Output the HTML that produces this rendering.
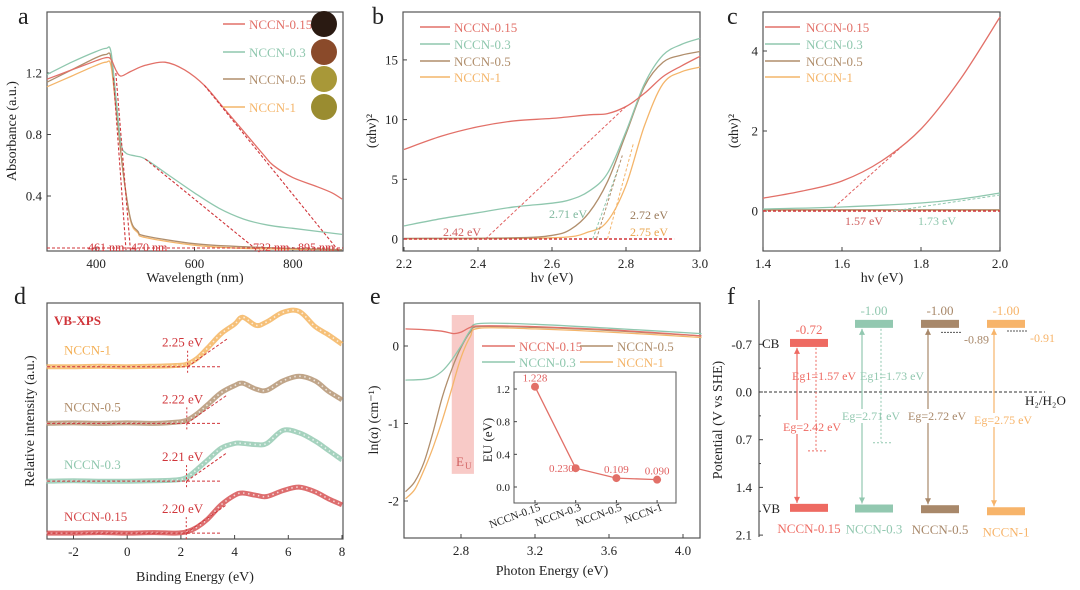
<!DOCTYPE html>
<html><head><meta charset="utf-8"><style>
html,body{margin:0;padding:0;background:#fff;}
svg{display:block;font-family:"Liberation Serif",serif;}
</style></head><body>
<svg id="fig" width="1080" height="590" viewBox="0 0 1080 590" xmlns="http://www.w3.org/2000/svg"></svg>
<script>
// ---------- DATA ----------
const names=["NCCN-0.15","NCCN-0.3","NCCN-0.5","NCCN-1"];
const colors=["#e27068","#8fc7ae","#b08e6c","#f4b56a"];
// panel a: wavelength (nm) / absorbance
const aX=[[300,350,400,420,430,440,450,470,500,540,580,620,660,700,740,760,800,850,880,900],
 [300,350,400,420,430,440,450,460,480,500,550,600,650,700,750,800,850,900],
 [300,350,400,420,430,440,455,470,485,500,600,700,900],
 [300,350,400,420,430,440,455,470,485,500,600,700,900]];
const aY=[[1.16,1.22,1.28,1.30,1.29,1.22,1.18,1.21,1.25,1.27,1.22,1.12,0.97,0.82,0.67,0.60,0.52,0.46,0.42,0.38],
 [1.19,1.27,1.34,1.36,1.34,1.05,0.75,0.68,0.66,0.64,0.53,0.42,0.32,0.25,0.21,0.19,0.17,0.15],
 [1.14,1.22,1.30,1.32,1.30,1.00,0.55,0.25,0.17,0.14,0.09,0.07,0.05],
 [1.11,1.18,1.25,1.27,1.25,0.98,0.55,0.24,0.16,0.13,0.08,0.06,0.05]];
const aEdges=[461,470,732,895];
const aTicksX=[400,600,800], aTicksY=[0.4,0.8,1.2];
// panel b
const bX=[[2.2,2.3,2.4,2.5,2.6,2.7,2.75,2.8,2.85,2.9,2.95,3.0],
 [2.2,2.3,2.4,2.5,2.6,2.65,2.7,2.75,2.8,2.85,2.9,2.95,3.0],
 [2.2,2.5,2.6,2.65,2.7,2.75,2.8,2.85,2.9,2.95,3.0],
 [2.2,2.6,2.7,2.75,2.8,2.85,2.9,2.95,3.0]];
const bY=[[7.5,8.6,9.4,9.9,10.1,10.4,10.5,11.1,12.2,13.6,14.5,15.3],
 [1.1,1.7,2.2,2.7,3.0,3.3,4.0,5.5,9.0,13.0,15.4,16.3,16.8],
 [0.05,0.1,0.3,0.8,2.2,4.8,8.8,12.8,14.8,15.4,15.7],
 [0.02,0.1,0.6,1.5,4.5,9.5,13.0,14.0,14.4]];
const bGaps=[2.42,2.71,2.72,2.75];
const bTicksX=[2.2,2.4,2.6,2.8,3.0], bTicksY=[0,5,10,15];
// panel c
const cX=[[1.4,1.5,1.6,1.7,1.8,1.9,2.0],[1.4,1.6,1.8,1.9,2.0],[1.4,2.0],[1.4,2.0]];
const cY=[[0.32,0.5,0.75,1.25,2.05,3.3,4.85],[0.05,0.1,0.2,0.3,0.45],[0.03,0.03],[0.02,0.02]];
const cGaps=[1.57,1.73];
const cTicksX=[1.4,1.6,1.8,2.0], cTicksY=[0,2,4];
// panel d (VB-XPS), relative intensity above each baseline
const dX=[-3,-2,-1,0,1,1.8,2.2,2.6,3,3.5,4,4.3,4.8,5.2,5.8,6.4,7,7.5,8];
const dRel=[[0,0,0.02,0,0.02,0,0.05,0.25,0.6,1.2,1.6,1.7,1.6,1.55,1.8,1.95,1.75,1.45,1.2],
 [0,0.02,0,0,0.02,0.05,0.15,0.5,0.9,1.4,1.6,1.6,1.55,1.6,2.15,2.05,1.7,1.3,0.9],
 [0,0.02,0,0.02,0,0.05,0.12,0.4,0.8,1.3,1.6,1.7,1.45,1.4,1.8,2.0,1.8,1.35,1.0],
 [0,0,0.02,0,0.02,0.05,0.1,0.35,0.8,1.4,1.8,2.1,1.75,1.9,2.3,2.35,1.7,1.35,0.95]];
const dBase=[0.25,2.45,4.9,7.3];
const dVB=[2.20,2.21,2.22,2.25];
const dTicksX=[-2,0,2,4,6,8];
// panel e
const eX=[[2.5,2.6,2.7,2.76,2.8,2.85,2.9,3.2,3.6,4.1],
 [2.5,2.6,2.65,2.7,2.75,2.8,2.85,2.9,3.2,3.6,4.1],
 [2.5,2.55,2.6,2.65,2.7,2.75,2.8,2.85,2.9,3.2,3.6,4.1],
 [2.5,2.55,2.6,2.65,2.7,2.75,2.8,2.85,2.9,3.2,3.6,4.1]];
const eY=[[0.22,0.21,0.19,0.16,0.18,0.24,0.26,0.25,0.21,0.13],
 [-0.44,-0.43,-0.4,-0.32,-0.18,0.0,0.2,0.29,0.28,0.23,0.16],
 [-1.88,-1.75,-1.5,-1.1,-0.65,-0.3,-0.02,0.18,0.25,0.24,0.2,0.13],
 [-1.97,-1.85,-1.6,-1.3,-0.95,-0.55,-0.15,0.12,0.23,0.22,0.18,0.11]];
const eTicksX=[2.8,3.2,3.6,4.0], eTicksY=[-2,-1,0];
const euVals=[1.228,0.230,0.109,0.090];
const euLabels=["1.228","0.230","0.109","0.090"];
const euTicks=[0.0,0.4,0.8,1.2];
// panel f
const fCB=[-0.72,-1.00,-1.00,-1.00];
const fVB=[1.70,1.71,1.72,1.75];
const fEg=[2.42,2.71,2.72,2.75];
const fEg1=[1.57,1.73];
const fSub=[null,null,-0.89,-0.91];
const fTicks=[-0.7,0.0,0.7,1.4,2.1];

// ---------- HELPERS ----------
const svg=document.getElementById('fig');
const NS="http://www.w3.org/2000/svg";
function el(tag,attrs,name,parent){
  const e=document.createElementNS(NS,tag);
  for(const k in attrs) e.setAttribute(k,attrs[k]);
  
  
  (parent||svg).appendChild(e);return e;
}
function txt(x,y,s,name,opt){
  opt=opt||{};
  const t=el('text',{x:x,y:y,'font-size':opt.size||13,fill:opt.fill||'#222','text-anchor':opt.anchor||'start'},name,opt.parent);
  if(opt.transform) t.setAttribute('transform',opt.transform);
  if(opt.weight) t.setAttribute('font-weight',opt.weight);
  t.textContent=s;return t;
}
function lin(d0,d1,p0,p1){return v=>p0+(v-d0)*(p1-p0)/(d1-d0);}
function line(x1,y1,x2,y2,name,st){
  return el('line',Object.assign({x1:x1,y1:y1,x2:x2,y2:y2,stroke:'#444','stroke-width':1},st||{}),name);
}
function smoothD(P){
  if(P.length<3) return P.map((p,i)=>(i?'L':'M')+p[0].toFixed(1)+','+p[1].toFixed(1)).join('');
  let d='M'+P[0][0].toFixed(1)+','+P[0][1].toFixed(1);
  for(let i=0;i<P.length-1;i++){
    const p0=P[Math.max(0,i-1)],p1=P[i],p2=P[i+1],p3=P[Math.min(P.length-1,i+2)];
    const c1=[p1[0]+(p2[0]-p0[0])/6,p1[1]+(p2[1]-p0[1])/6];
    const c2=[p2[0]-(p3[0]-p1[0])/6,p2[1]-(p3[1]-p1[1])/6];
    d+='C'+c1[0].toFixed(1)+','+c1[1].toFixed(1)+' '+c2[0].toFixed(1)+','+c2[1].toFixed(1)+' '+p2[0].toFixed(1)+','+p2[1].toFixed(1);
  }
  return d;
}
function path(xs,ys,sx,sy,name,st){
  const P=xs.map((v,i)=>[sx(v),sy(ys[i])]);
  return el('path',Object.assign({d:smoothD(P),fill:'none','stroke-width':1.3,'stroke-linejoin':'round'},st||{}),name);
}
function frame(x0,y0,x1,y1,name){el('rect',{x:x0,y:y0,width:x1-x0,height:y1-y0,fill:'none',stroke:'#555','stroke-width':1.2},name);}
function xticks(tk,sx,yb,name,fmt){tk.forEach(v=>{line(sx(v),yb,sx(v),yb-4,name+'-tick');txt(sx(v),yb+17,fmt?fmt(v):String(v),name+'-label',{anchor:'middle',size:13});});}
function yticks(tk,sy,xl,name,fmt){tk.forEach(v=>{line(xl,sy(v),xl+4,sy(v),name+'-tick');txt(xl-5,sy(v)+4.5,fmt?fmt(v):String(v),name+'-label',{anchor:'end',size:13});});}
const red='#d0353a';

// ---------- PANEL A ----------
{const sx=lin(300,900,47,342), sy=lin(0,0.4,257.5,196);
 frame(47,12,343,251,'panel-a-frame');
 xticks(aTicksX,sx,251,'a-x'); yticks(aTicksY,sy,47,'a-y',v=>v.toFixed(1));
 txt(195,282,'Wavelength (nm)','a-x-axis-title',{anchor:'middle',size:14});
 txt(16,131,'Absorbance (a.u.)','a-y-axis-title',{anchor:'middle',size:14,transform:'rotate(-90 16 131)'});
 for(let i=3;i>=0;i--) path(aX[i],aY[i],sx,sy,'a-curve-'+names[i],{stroke:colors[i]});
 const tang=[[435,1.17],[440,1.2],[500,0.64],[620,1.12]];
 aEdges.forEach((e,i)=>line(sx(tang[i][0]),sy(tang[i][1]),sx(e),252,'a-tangent-'+e,{stroke:red,'stroke-dasharray':'3,2','stroke-width':1.1}));
 line(47,248,343,248,'a-baseline',{stroke:red,'stroke-dasharray':'3,2'});
 [[88,'461 nm'],[131,'470 nm'],[253,'732 nm'],[298,'895 nm']].forEach((p,i)=>txt(p[0],251,p[1],'a-edge-label',{size:12,fill:red}));
 const sw=['#2a1a12','#8a4a2a','#a89838','#9a8c30'];
 [24,52,79,107].forEach((y,i)=>{line(223,y,245,y,'a-legend-line',{stroke:colors[i],'stroke-width':1.5});
  txt(249,y+5,names[i],'a-legend-label',{size:13,fill:colors[i]});
  el('circle',{cx:324,cy:y,r:13,fill:sw[i]},'a-sample-photo');});
 txt(18,24,'a','panel-a-letter',{size:24});}

// ---------- PANEL B ----------
{const sx=lin(2.2,3.0,404,700), sy=lin(0,5,239,179.3);
 frame(403,12,700,251,'panel-b-frame');
 xticks(bTicksX,sx,251,'b-x',v=>v.toFixed(1)); yticks(bTicksY,sy,403,'b-y');
 txt(552,282,'hν (eV)','b-x-axis-title',{anchor:'middle',size:14});
 txt(376,131,'(αhν)²','b-y-axis-title',{anchor:'middle',size:14,transform:'rotate(-90 376 131)'});
 for(let i=3;i>=0;i--) path(bX[i],bY[i],sx,sy,'b-curve-'+names[i],{stroke:colors[i]});
 line(sx(2.2),sy(0),sx(2.93),sy(0),'b-baseline',{stroke:red,'stroke-dasharray':'3,2','stroke-width':1.6});
 line(sx(bGaps[0]),sy(0),sx(2.8),sy(11.1),'b-tangent-0.15',{stroke:'#e06060','stroke-dasharray':'3,2'});
 [[1,2.78,6],[2,2.79,7],[3,2.82,8]].forEach(p=>line(sx(bGaps[p[0]]),sy(0),sx(p[1]),sy(p[2]),'b-tangent',{stroke:colors[p[0]],'stroke-dasharray':'3,2'}));
 txt(443,236,'2.42 eV','b-gap-label',{size:12,fill:'#d06060'});
 txt(549,218,'2.71 eV','b-gap-label',{size:12,fill:'#7fb89e'});
 txt(630,219,'2.72 eV','b-gap-label',{size:12,fill:'#9a7a5a'});
 txt(630,236,'2.75 eV','b-gap-label',{size:12,fill:'#eaa64e'});
 [27,44,61,77].forEach((y,i)=>{line(420,y,450,y,'b-legend-line',{stroke:colors[i],'stroke-width':1.5});
  txt(454,y+5,names[i],'b-legend-label',{size:13,fill:colors[i]});});
 txt(372,24,'b','panel-b-letter',{size:24});}

// ---------- PANEL C ----------
{const sx=lin(1.4,2.0,763,1000), sy=lin(0,2,211,131);
 frame(763,12,1000,251,'panel-c-frame');
 xticks(cTicksX,sx,251,'c-x',v=>v.toFixed(1)); yticks(cTicksY,sy,763,'c-y');
 txt(882,282,'hν (eV)','c-x-axis-title',{anchor:'middle',size:14});
 txt(738,131,'(αhν)²','c-y-axis-title',{anchor:'middle',size:14,transform:'rotate(-90 738 131)'});
 for(let i=3;i>=0;i--) path(cX[i],cY[i],sx,sy,'c-curve-'+names[i],{stroke:colors[i]});
 line(763,sy(0),1000,sy(0),'c-baseline',{stroke:red,'stroke-dasharray':'3,2','stroke-width':1.4});
 line(sx(cGaps[0]),sy(0),sx(1.75),sy(1.6),'c-tangent-0.15',{stroke:'#e06060','stroke-dasharray':'3,2'});
 line(sx(cGaps[1]),sy(0),sx(2.0),sy(0.4),'c-tangent-0.3',{stroke:'#8fc7ae','stroke-dasharray':'3,2'});
 txt(845,225,'1.57 eV','c-gap-label',{size:12,fill:'#d06060'});
 txt(918,225,'1.73 eV','c-gap-label',{size:12,fill:'#8fc7ae'});
 [27,44,61,77].forEach((y,i)=>{line(765,y,800,y,'c-legend-line',{stroke:colors[i],'stroke-width':1.5});
  txt(806,y+5,names[i],'c-legend-label',{size:13,fill:colors[i]});});
 txt(727,24,'c','panel-c-letter',{size:24});}

// ---------- PANEL D ----------
{const sx=lin(-2,8,73.5,342), sy=lin(0,10,539,303);
 frame(47,303,343,539,'panel-d-frame');
 xticks(dTicksX,sx,539,'d-x');
 txt(195,581,'Binding Energy (eV)','d-x-axis-title',{anchor:'middle',size:14});
 txt(34,421,'Relative intensity (a.u.)','d-y-axis-title',{anchor:'middle',size:14,transform:'rotate(-90 34 421)'});
 const dc=['#d4484a','#8fc7ae','#b08e6c','#f4b056'];
 const lbl=['NCCN-0.15','NCCN-0.3','NCCN-0.5','NCCN-1'];
 for(let i=0;i<4;i++){
  const ys=dRel[i].map(v=>v+dBase[i]);
  path(dX,ys,sx,sy,'d-trace-'+names[i],{stroke:dc[i],'stroke-width':5,opacity:0.8});
  path(dX,ys,sx,sy,'d-trace-dots-'+names[i],{stroke:'#fff','stroke-width':1.6,'stroke-dasharray':'1.5,3.5',opacity:0.7});
  const bx=sx(dVB[i]), by=sy(dBase[i]);
  line(47,by,sx(3.5),by,'d-baseline',{stroke:red,'stroke-dasharray':'3,2'});
  line(bx,by+6,bx,by-16,'d-vb-marker',{stroke:red,'stroke-dasharray':'2,2'});
  line(bx,by,sx(dVB[i]+1.5),sy(dBase[i]+1.2),'d-tangent',{stroke:red,'stroke-dasharray':'3,2'});
  txt(162,by-20,dVB[i].toFixed(2)+' eV','d-vb-label',{size:13,fill:red});
  txt(64,by-12,lbl[i],'d-series-label',{size:13,fill:dc[i]});
 }
 txt(54,325,'VB-XPS','d-title',{size:13,fill:red,weight:'bold'});
 txt(14,304,'d','panel-d-letter',{size:24});}

// ---------- PANEL E ----------
{const sx=lin(2.8,3.2,461,535), sy=lin(0,-1,346,423.5);
 frame(404,303,700,538,'panel-e-frame');
 xticks(eTicksX,sx,538,'e-x',v=>v.toFixed(1)); yticks(eTicksY,sy,404,'e-y');
 txt(552,575,'Photon Energy (eV)','e-x-axis-title',{anchor:'middle',size:14});
 txt(378,420,'ln(α) (cm⁻¹)','e-y-axis-title',{anchor:'middle',size:14,transform:'rotate(-90 378 420)'});
 el('rect',{x:sx(2.75),y:sy(0.4),width:sx(2.87)-sx(2.75),height:sy(-1.65)-sy(0.4),fill:'#f6b8b4',opacity:0.75},'eu-band');
 txt(456,466,'E','eu-band-label',{size:13,fill:'#d06060'});
 txt(465,469,'U','eu-band-sub',{size:9,fill:'#d06060'});
 for(let i=3;i>=0;i--) path(eX[i],eY[i],sx,sy,'e-curve-'+names[i],{stroke:colors[i]});
 [[482,346,0],[580,346,2],[482,362,1],[580,362,3]].forEach(p=>{
  line(p[0],p[1],p[0]+33,p[1],'e-legend-line',{stroke:colors[p[2]],'stroke-width':1.5});
  txt(p[0]+37,p[1]+5,names[p[2]],'e-legend-label',{size:13,fill:colors[p[2]]});});
 // inset
 const ix=i=>535+i*40.7, iy=lin(0,1.2,487,389);
 el('rect',{x:514,y:372,width:162,height:131,fill:'#fff',stroke:'#555','stroke-width':1},'inset-frame');
 euTicks.forEach(v=>{line(514,iy(v),517,iy(v),'inset-y-tick');txt(510,iy(v)+4,v.toFixed(1),'inset-y-label',{anchor:'end',size:11});});
 txt(492,440,'EU (eV)','inset-y-axis-title',{anchor:'middle',size:13,transform:'rotate(-90 492 440)'});
 let d=euVals.map((v,i)=>(i?'L':'M')+ix(i)+','+iy(v)).join('');
 el('path',{d:d,fill:'none',stroke:'#e27068','stroke-width':1.3},'inset-line');
 euVals.forEach((v,i)=>{el('circle',{cx:ix(i),cy:iy(v),r:4,fill:'#e27068'},'inset-point');
  txt(ix(i)+(i==1?-2:0),iy(v)-5+(i==1?9:0),euLabels[i],'inset-value-label',{anchor:i==1?'end':'middle',size:11,fill:'#e06060'});
  line(ix(i),503,ix(i),500,'inset-x-tick');
  txt(ix(i)+6,510,names[i],'inset-x-label',{anchor:'end',size:11,transform:'rotate(-20 '+(ix(i)+6)+' 510)'});});
 txt(370,304,'e','panel-e-letter',{size:24});}

// ---------- PANEL F ----------
{const sy=lin(0,0.7,392,439.7);
 line(759,300,759,537,'f-y-axis',{stroke:'#555','stroke-width':1.2});
 fTicks.forEach(v=>{line(759,sy(v),763,sy(v),'f-y-tick');txt(752,sy(v)+4.5,v.toFixed(1),'f-y-label',{anchor:'end',size:13});});
 [-0.35,0.35,1.05,1.75].forEach(v=>line(759,sy(v),761,sy(v),'f-minor-tick'));
 txt(722,420,'Potential (V vs SHE)','f-y-axis-title',{anchor:'middle',size:14,transform:'rotate(-90 722 420)'});
 line(759,sy(0),1045,sy(0),'h2-h2o-line',{stroke:'#333','stroke-dasharray':'3,2'});
 txt(1025,405,'H₂/H₂O','h2-label',{size:13});
 txt(762,348,'CB','cb-label',{size:13}); txt(762,513,'VB','vb-label',{size:13});
 const fc=['#ee6a62','#92c8b0','#a8886a','#f7b46a'];
 const bx=[790,855,921,987];
 for(let i=0;i<4;i++){
  const x=bx[i], c=fc[i];
  el('rect',{x:x,y:sy(fCB[i])-4,width:38,height:8,fill:c},'cb-bar-'+names[i]);
  el('rect',{x:x,y:sy(fVB[i])-4,width:38,height:8,fill:c},'vb-bar-'+names[i]);
  txt(x+19,sy(fCB[i])-9,fCB[i].toFixed(2),'cb-value',{anchor:'middle',size:13,fill:c});
  txt(x+19,sy(fVB[i])+25,names[i],'f-sample-label',{anchor:'middle',size:13,fill:c});
  const ax=x+7;
  line(ax,sy(fCB[i])+5,ax,sy(fVB[i])-5,'eg-arrow',{stroke:c,'stroke-width':1.2});
  el('path',{d:`M${ax-3},${sy(fCB[i])+11}L${ax},${sy(fCB[i])+5}L${ax+3},${sy(fCB[i])+11}Z`,fill:c},'eg-arrowhead');
  el('path',{d:`M${ax-3},${sy(fVB[i])-11}L${ax},${sy(fVB[i])-5}L${ax+3},${sy(fVB[i])-11}Z`,fill:c},'eg-arrowhead');
  const ly=i==0?431:i==3?424:420;
  el('rect',{x:ax-15,y:ly-11,width:i==0?44:70,height:14,fill:'#fff'},'eg-label-bg');
  txt(i==0?ax-14:ax-20,ly,'Eg='+fEg[i].toFixed(2)+' eV','eg-label',{size:12,fill:c});
  if(fSub[i]!==null){line(x+20,sy(fSub[i])+1,x+40,sy(fSub[i])+1,'sub-level',{stroke:'#555','stroke-dasharray':'2,1'});
   txt(x+43,sy(fSub[i])+12,fSub[i].toFixed(2),'sub-level-label',{size:12,fill:c});}
 }
 fEg1.forEach((g,i)=>{const x=bx[i]+26,c=fc[i],y0=sy(fCB[i])+5,y1=sy(fCB[i]+g);
  line(x,y0,x,y1,'eg1-arrow',{stroke:c,'stroke-dasharray':'2,2'});
  line(x-8,y1+1,x+10,y1+1,'eg1-level',{stroke:c,'stroke-dasharray':'2,2'});
  txt(bx[i]+2+(i?3:0),380,'Eg1='+g.toFixed(2)+' eV','eg1-label',{size:12,fill:c});});
 txt(727,304,'f','panel-f-letter',{size:24});}
</script>
</body></html>
